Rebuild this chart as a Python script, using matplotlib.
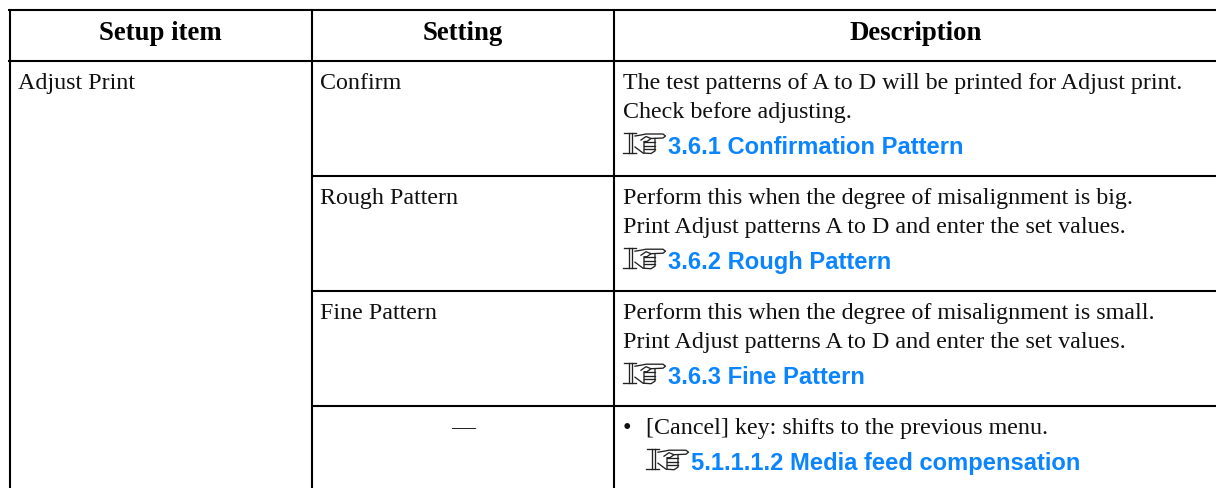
import matplotlib
matplotlib.use('Agg')
import matplotlib.pyplot as plt

headers = ["Setup item", "Setting", "Description"]
item = "Adjust Print"
settings = ["Confirm", "Rough Pattern", "Fine Pattern", "\u2014"]
descriptions = [
    ["The test patterns of A to D will be printed for Adjust print.", "Check before adjusting."],
    ["Perform this when the degree of misalignment is big.", "Print Adjust patterns A to D and enter the set values."],
    ["Perform this when the degree of misalignment is small.", "Print Adjust patterns A to D and enter the set values."],
    ["[Cancel] key: shifts to the previous menu."],
]
links = ["3.6.1 Confirmation Pattern", "3.6.2 Rough Pattern", "3.6.3 Fine Pattern", "5.1.1.1.2 Media feed compensation"]

W, H = 1216, 489
col_x = [9.5, 312, 614]
row_y = [11, 61.5, 176.7, 291.7, 406.7]
header_x = [160, 463, 916]
serif = 'Liberation Serif'
sans = 'Liberation Sans'
blue = '#0a84ff'
ink = '#111111'
fs = 17.3

# pointing hand icon, strokes in px from its left end / baseline
hand = [
    [(1, -20), (13, -20)],
    [(0, 0), (13, 0)],
    [(5.5, -20), (5.5, 0)],
    [(8.5, -20), (8.5, 0)],
    [(12, -17), (18, -18), (23, -19), (40, -19), (42.5, -17), (40, -15), (28, -14.5)],
    [(12, -6), (20, 0), (28, 0.5), (32, -2), (32, -14.5)],
    [(18, -13), (23, -16.5), (28, -14.5), (24, -11.5), (21, -11.5), (21, 0)],
    [(21, -11), (32, -11)],
    [(21, -7.5), (32, -7.5)],
    [(21, -4), (32, -4)],
]

fig = plt.figure(figsize=(W / 100, H / 100), dpi=100)
ax = fig.add_axes([0, 0, 1, 1])
ax.set_xlim(0, W)
ax.set_ylim(H, 0)
ax.axis('off')


def draw_hand(x0, y0):
    for stroke in hand:
        xs = [x0 + p[0] for p in stroke]
        ys = [y0 + p[1] for p in stroke]
        ax.plot(xs, ys, color='#222222', lw=0.95, solid_joinstyle='round')


# table rules
for y in row_y[:2]:
    ax.plot([8, W], [y, y], color='black', lw=1.5, solid_capstyle='butt')
for y in row_y[2:]:
    ax.plot([col_x[1] - 1, W], [y, y], color='black', lw=1.5, solid_capstyle='butt')
for x in col_x:
    ax.plot([x, x], [row_y[0], H], color='black', lw=1.5, solid_capstyle='butt')

for c, h in zip(header_x, headers):
    ax.text(c, 40, h, family=serif, weight='bold', fontsize=19.3, ha='center', va='baseline')

ax.text(18, 89, item, family=serif, fontsize=fs, va='baseline', color=ink)

for i, s in enumerate(settings):
    y = row_y[i + 1] + 27.5
    if s == "\u2014":
        ax.text(463, y, s, family=serif, fontsize=fs, ha='center', va='baseline', color=ink)
    else:
        ax.text(320, y, s, family=serif, fontsize=fs, va='baseline', color=ink)

    indent = 623
    if i == 3:
        ax.text(623, y, "\u2022", family=serif, fontsize=fs, va='baseline', color=ink)
        indent = 646
    n = len(descriptions[i])
    for j, line in enumerate(descriptions[i]):
        ax.text(indent, y + j * 29, line, family=serif, fontsize=fs, va='baseline', color=ink)
    ly = y + (n - 1) * 29 + 36
    draw_hand(indent, ly)
    ax.text(indent + 45, ly, links[i], family=sans, weight='bold', fontsize=17.1, va='baseline', color=blue)

fig.savefig('out.png', dpi=100)
